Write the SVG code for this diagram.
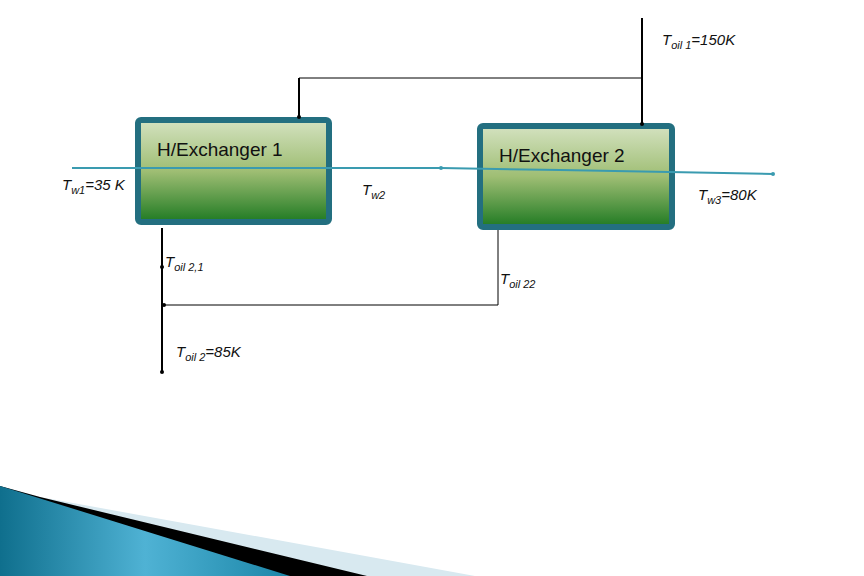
<svg xmlns="http://www.w3.org/2000/svg" width="864" height="576" viewBox="0 0 864 576">
<defs>
<linearGradient id="g" x1="0" y1="0" x2="0" y2="1">
<stop offset="0" stop-color="#d4e2c0"/><stop offset="0.5" stop-color="#9fbe74"/><stop offset="1" stop-color="#1f7a22"/>
</linearGradient>
<linearGradient id="b" x1="0" y1="0" x2="1" y2="0">
<stop offset="0" stop-color="#0f6f8d"/><stop offset="0.5" stop-color="#4fb2d4"/><stop offset="1" stop-color="#1b86a8"/>
</linearGradient>
<marker id="dot" viewBox="0 0 4 4" refX="2" refY="2" markerWidth="4" markerHeight="4" markerUnits="userSpaceOnUse"><circle cx="2" cy="2" r="2" fill="context-stroke"/></marker>
</defs>
<style>
.box{fill:url(#g);stroke:#236f80;stroke-width:6}
.hx{font-family:"Liberation Sans",Arial,sans-serif;font-size:19px;fill:#111}
.t{font-family:"Liberation Sans",Arial,sans-serif;font-size:15px;font-style:italic;fill:#111}
.s{font-size:11px}
.oil{stroke:#000;stroke-width:2;fill:none}
.thin{stroke:#000;stroke-width:1;fill:none}
.w{stroke:#3a9bb0;stroke-width:2;fill:none}
</style>
<rect width="864" height="576" fill="#fff"/>
<g id="deco">
<polygon points="0,486 40,497 475,576 0,576" fill="#d8e9f0"/>
<polygon points="0,486 40,497 367,576 0,576" fill="#000"/>
<polygon points="0,486 290,576 0,576" fill="url(#b)"/>
</g>
<g id="hx1"><rect class="box" x="138" y="120" width="191" height="102" rx="3"/><text class="hx" x="157" y="156">H/Exchanger 1</text></g>
<g id="hx2"><rect class="box" x="480" y="126" width="192" height="101" rx="3"/><text class="hx" x="499" y="162">H/Exchanger 2</text></g>
<g id="connectors">
<polyline class="w" points="72,168 441,168 560,170 773,174" marker-end="url(#dot)"/>
<circle cx="441" cy="168" r="2" fill="#3a9bb0"/>
<polyline class="oil" points="642,18 642,124" marker-end="url(#dot)"/>
<polyline class="thin" points="642,78 299,78"/>
<polyline class="oil" points="299,78 299,117" marker-end="url(#dot)"/>
<polyline class="thin" points="498,230 498,305 162,305"/>
<polyline class="oil" points="162,228 162,372" marker-end="url(#dot)"/>
<circle cx="162" cy="267" r="2"/><circle cx="164" cy="305" r="2"/>
</g>
<g id="labels">
<text class="t" x="662" y="45">T<tspan class="s" dy="4">oil 1</tspan><tspan dy="-4">=150K</tspan></text>
<text class="t" x="62" y="190">T<tspan class="s" dy="4">w1</tspan><tspan dy="-4">=35 K</tspan></text>
<text class="t" x="362" y="195">T<tspan class="s" dy="4">w2</tspan></text>
<text class="t" x="698" y="200">T<tspan class="s" dy="4">w3</tspan><tspan dy="-4">=80K</tspan></text>
<text class="t" x="165" y="267">T<tspan class="s" dy="4">oil 2,1</tspan></text>
<text class="t" x="500" y="284">T<tspan class="s" dy="4">oil 22</tspan></text>
<text class="t" x="176" y="357">T<tspan class="s" dy="4">oil 2</tspan><tspan dy="-4">=85K</tspan></text>
</g>
</svg>
